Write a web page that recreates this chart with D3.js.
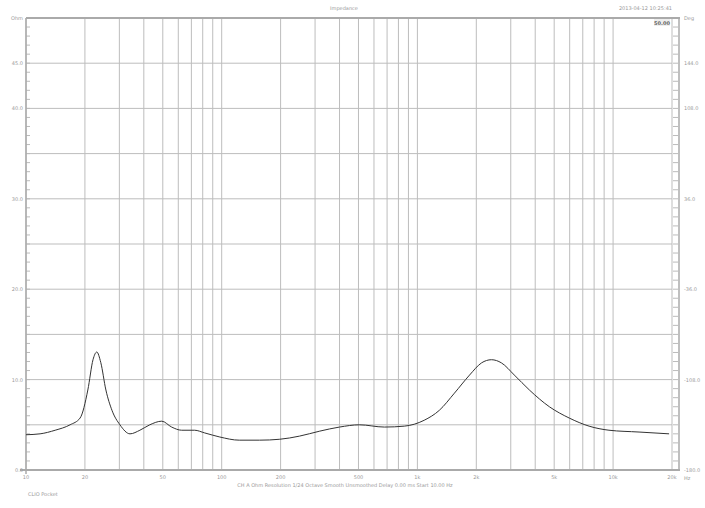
<!DOCTYPE html>
<html>
<head>
<meta charset="utf-8">
<script src="https://cdn.jsdelivr.net/npm/d3@7"></script>
<style>
  body { margin: 0; background: #fff; }
  text { font-family: "DejaVu Sans", sans-serif; fill: #9a9a9a; }
</style>
</head>
<body>
<div id="chart"></div>
<script>
let width = 705
let height = 508

// impedance curve, [Hz, Ohm]
let freqs = [10, 11.8, 14.1, 16.8, 18.9, 20.7, 22.0, 23.0, 24.1, 25.6, 27.5, 30.2, 34.0, 38.2, 42.9, 49.4, 55.5, 62.4, 72.7, 81.9,
    97.8, 123, 156, 198, 250, 317, 400, 505, 678, 857, 1083, 1294, 1546, 1847, 2127, 2391, 2688, 3130, 3735, 4723, 5967, 7540, 9530, 13570, 19330]
let ohms = [3.9, 4.0, 4.4, 5.0, 5.75, 8.85, 12.2, 13.05, 11.9, 8.85, 6.6, 5.0, 4.0, 4.4, 5.0, 5.4, 4.75, 4.4, 4.4, 4.1,
    3.65, 3.3, 3.3, 3.4, 3.75, 4.3, 4.75, 5.0, 4.75, 4.85, 5.5, 6.6, 8.5, 10.5, 11.85, 12.2, 11.85, 10.5, 8.85, 7.0, 5.75, 4.85, 4.4, 4.2, 4.0]

let xTickVals = [10, 20, 50, 100, 200, 500, 1000, 2000, 5000, 10000, 20000]
let xTickText = ["10", "20", "50", "100", "200", "500", "1k", "2k", "5k", "10k", "20k"]
let leftTicks = [0, 10, 20, 30, 40, 45]
let rightTicks = [-180, -108, -36, 36, 108, 144]

let svg = d3.select("#chart").append("svg")
    .attr("width", width)
    .attr("height", height)

let x = d3.scaleLog().domain([10, 20000]).range([26, 672])
let y = d3.scaleLinear().domain([0, 50]).range([470, 18])
let yR = d3.scaleLinear().domain([-180, 180]).range([470, 18])

// grid, vertical log lines
let gridF = []
for (let dec = 10; dec < 20000; dec *= 10)
    for (let m = 1; m < 10; m++) if (dec * m <= 20000) gridF.push(dec * m)

svg.append("g").selectAll("line").data(gridF).join("line")
    .attr("x1", d => x(d)).attr("x2", d => x(d))
    .attr("y1", 18).attr("y2", 470)
    .attr("stroke", "#bdbdbd").attr("stroke-width", 1)

svg.append("g").selectAll("line").data(d3.range(0, 51, 5)).join("line")
    .attr("x1", 26).attr("x2", 672)
    .attr("y1", d => y(d)).attr("y2", d => y(d))
    .attr("stroke", "#bdbdbd").attr("stroke-width", 1)

// minor ticks on both vertical axes
svg.append("g").selectAll("line").data(d3.range(0, 50, 1)).join("line")
    .attr("x1", 26).attr("x2", 30)
    .attr("y1", d => y(d)).attr("y2", d => y(d))
    .attr("stroke", "#bbb")
svg.append("g").selectAll("line").data(d3.range(0, 50, 1)).join("line")
    .attr("x1", 673).attr("x2", 678)
    .attr("y1", d => y(d)).attr("y2", d => y(d))
    .attr("stroke", "#bbb")

// frame
svg.append("line").attr("x1", 26).attr("x2", 680).attr("y1", 18).attr("y2", 18)
    .attr("stroke", "#aaa").attr("stroke-width", 2)
svg.append("line").attr("x1", 20).attr("x2", 680).attr("y1", 470).attr("y2", 470)
    .attr("stroke", "#aaa").attr("stroke-width", 2)
svg.append("line").attr("x1", 26).attr("x2", 26).attr("y1", 18).attr("y2", 474)
    .attr("stroke", "#aaa").attr("stroke-width", 1.5)
svg.append("line").attr("x1", 679).attr("x2", 679).attr("y1", 18).attr("y2", 470)
    .attr("stroke", "#aaa").attr("stroke-width", 1.5)

// labels
svg.append("g").selectAll("text").data(xTickVals).join("text")
    .attr("x", d => x(d)).attr("y", 479)
    .attr("text-anchor", "middle").style("font-size", "5px")
    .text((d, i) => xTickText[i])
svg.append("text").attr("x", 684).attr("y", 480).style("font-size", "5px").text("Hz")

svg.append("g").selectAll("text").data(leftTicks).join("text")
    .attr("x", 23).attr("y", d => y(d) + 2)
    .attr("text-anchor", "end").style("font-size", "5px")
    .text(d => d.toFixed(1))
svg.append("text").attr("x", 23).attr("y", 20).attr("text-anchor", "end")
    .style("font-size", "5px").text("Ohm")

svg.append("g").selectAll("text").data(rightTicks).join("text")
    .attr("x", 684).attr("y", d => yR(d) + 2)
    .style("font-size", "5px")
    .text(d => d.toFixed(1))
svg.append("text").attr("x", 684).attr("y", 20).style("font-size", "5px").text("Deg")
svg.append("rect").attr("x", 654).attr("y", 19).attr("width", 16).attr("height", 7).attr("fill", "#eee")
svg.append("text").attr("x", 662).attr("y", 24.5).attr("text-anchor", "middle")
    .style("font-size", "5px").style("font-weight", "bold").style("fill", "#666").text("50.00")

svg.append("text").attr("x", 344).attr("y", 10).attr("text-anchor", "middle")
    .style("font-size", "5px").text("Impedance")
svg.append("text").attr("x", 672).attr("y", 10).attr("text-anchor", "end")
    .style("font-size", "5px").text("2013-04-12 10:25:41")
svg.append("text").attr("x", 345).attr("y", 487).attr("text-anchor", "middle")
    .style("font-size", "5px")
    .text("CH A   Ohm   Resolution 1/24 Octave   Smooth Unsmoothed   Delay 0.00 ms   Start 10.00 Hz")
svg.append("text").attr("x", 28).attr("y", 496).style("font-size", "5px").text("CLIO Pocket")

// curve
let pts = freqs.map((f, i) => [f, ohms[i]])
let line = d3.line()
    .x(d => x(d[0]))
    .y(d => y(d[1]))
    .curve(d3.curveMonotoneX)
svg.append("path").datum(pts)
    .attr("d", line)
    .attr("fill", "none")
    .attr("stroke", "#333")
    .attr("stroke-width", 1)
</script>
</body>
</html>
